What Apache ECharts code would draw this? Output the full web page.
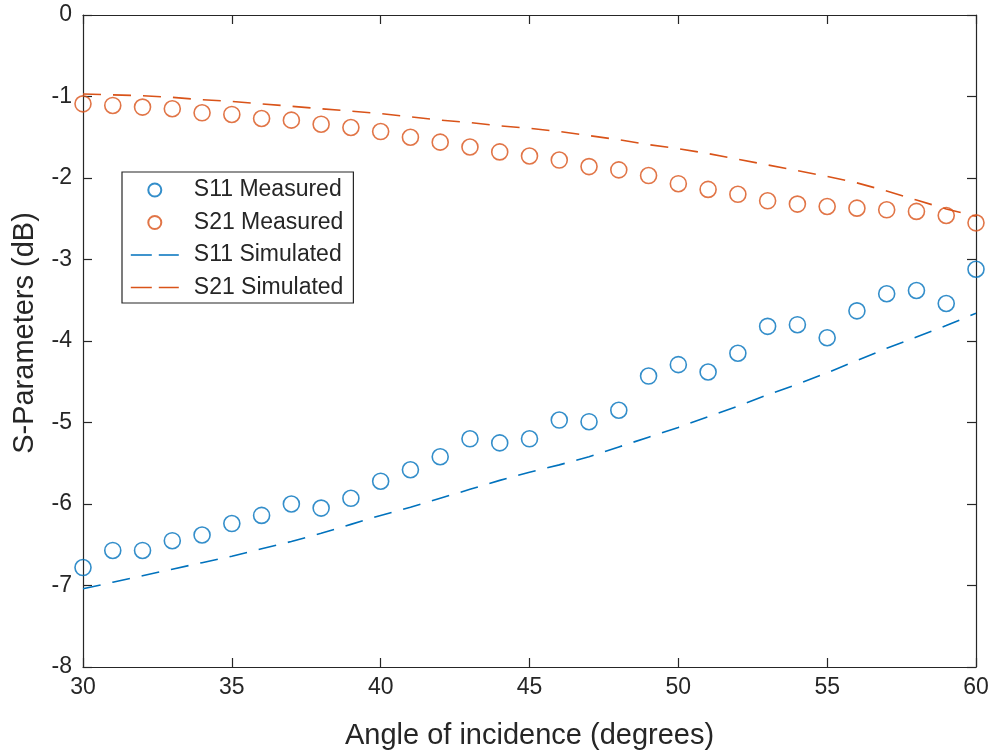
<!DOCTYPE html>
<html>
<head>
<meta charset="utf-8">
<script src="https://cdn.jsdelivr.net/npm/echarts@6/dist/echarts.min.js"></script>
<style>
html,body{margin:0;padding:0;background:#fff;}
#chart{width:993px;height:755px;}
</style>
</head>
<body>
<div id="chart"></div>
<script>
var angles = [30,31,32,33,34,35,36,37,38,39,40,41,42,43,44,45,46,47,48,49,50,51,52,53,54,55,56,57,58,59,60];
var s11Measured = [-6.78,-6.57,-6.57,-6.45,-6.38,-6.24,-6.14,-6.00,-6.05,-5.93,-5.72,-5.58,-5.42,-5.20,-5.25,-5.20,-4.97,-4.99,-4.85,-4.43,-4.29,-4.38,-4.15,-3.82,-3.80,-3.96,-3.63,-3.42,-3.38,-3.54,-3.12];
var s21Measured = [-1.09,-1.11,-1.13,-1.15,-1.20,-1.22,-1.27,-1.29,-1.34,-1.38,-1.43,-1.50,-1.56,-1.62,-1.68,-1.73,-1.78,-1.86,-1.90,-1.97,-2.07,-2.14,-2.20,-2.28,-2.32,-2.35,-2.37,-2.39,-2.41,-2.46,-2.55];
var s11Simulated = [-7.04,-6.96,-6.88,-6.80,-6.72,-6.64,-6.55,-6.46,-6.36,-6.25,-6.14,-6.04,-5.93,-5.82,-5.71,-5.61,-5.52,-5.42,-5.30,-5.18,-5.06,-4.93,-4.80,-4.66,-4.53,-4.39,-4.24,-4.09,-3.95,-3.81,-3.66];
var s21Simulated = [-0.97,-0.98,-0.99,-1.01,-1.04,-1.06,-1.09,-1.12,-1.15,-1.18,-1.21,-1.25,-1.29,-1.32,-1.36,-1.39,-1.43,-1.48,-1.53,-1.59,-1.64,-1.70,-1.77,-1.84,-1.91,-1.98,-2.06,-2.16,-2.27,-2.38,-2.47];
var seriesNames = ['S11 Measured','S21 Measured','S11 Simulated','S21 Simulated'];
var xTitle = 'Angle of incidence (degrees)';
var yTitle = 'S-Parameters (dB)';

var blue = '#0072BD', orange = '#D95319';
var ink = '#262626';
var FONT = '"Liberation Sans", Arial, Helvetica, sans-serif';

function pairs(ys){ return angles.map(function(a,i){ return [a, ys[i]]; }); }

var chart = echarts.init(document.getElementById('chart'));
var axisLine = {show:true, onZero:false, lineStyle:{color:ink, width:1.2}};
var tick = {show:true, inside:true, length:9, lineStyle:{color:ink, width:1.2}};
var option = {
  backgroundColor:'#fff',
  animation:false,
  grid:{left:83, right:17, top:15, bottom:86, containLabel:false},
  legend:{
    orient:'vertical', left:122, top:172,
    padding:[6.5,10,4,8],
    itemWidth:48, itemHeight:13, itemGap:9.5,
    backgroundColor:'#fff', borderColor:ink, borderWidth:1.2, borderRadius:0,
    lineStyle:{type:[21,7], width:1.6},
    textStyle:{fontFamily:FONT, fontSize:23, color:ink, lineHeight:23, padding:[0,0,0,10]},
    data:seriesNames
  },
  xAxis:[
    {type:'value', min:30, max:60, interval:5, position:'bottom',
     axisLine:axisLine, axisTick:tick, splitLine:{show:false},
     axisLabel:{fontFamily:FONT, fontSize:23, color:ink, margin:9},
     name:xTitle, nameLocation:'middle', nameGap:54,
     nameTextStyle:{fontFamily:FONT, fontSize:29, color:ink}},
    {type:'value', min:30, max:60, interval:5, position:'top',
     axisLine:axisLine, axisTick:tick, splitLine:{show:false}, axisLabel:{show:false}}
  ],
  yAxis:[
    {type:'value', min:-8, max:0, interval:1, position:'left',
     axisLine:axisLine, axisTick:tick, splitLine:{show:false},
     axisLabel:{fontFamily:FONT, fontSize:23, color:ink, margin:11},
     name:yTitle, nameLocation:'middle', nameGap:44,
     nameTextStyle:{fontFamily:FONT, fontSize:29, color:ink, padding:[0,0,0,16]}},
    {type:'value', min:-8, max:0, interval:1, position:'right',
     axisLine:axisLine, axisTick:tick, splitLine:{show:false}, axisLabel:{show:false}}
  ],
  series:[
    {name:seriesNames[0], type:'scatter', data:pairs(s11Measured), symbol:'circle', symbolSize:16,
     itemStyle:{color:'rgba(255,255,255,0)', borderColor:blue, borderWidth:1.6}},
    {name:seriesNames[1], type:'scatter', data:pairs(s21Measured), symbol:'circle', symbolSize:16,
     itemStyle:{color:'rgba(255,255,255,0)', borderColor:orange, borderWidth:1.6}},
    {name:seriesNames[2], type:'line', data:pairs(s11Simulated), symbol:'none', smooth:false,
     itemStyle:{color:'rgba(0,0,0,0)', borderWidth:0}, lineStyle:{color:blue, width:1.6, type:[18,12]}},
    {name:seriesNames[3], type:'line', data:pairs(s21Simulated), symbol:'none', smooth:false,
     itemStyle:{color:'rgba(0,0,0,0)', borderWidth:0}, lineStyle:{color:orange, width:1.6, type:[18,12]}}
  ]
};
chart.setOption(option);
</script>
</body>
</html>
